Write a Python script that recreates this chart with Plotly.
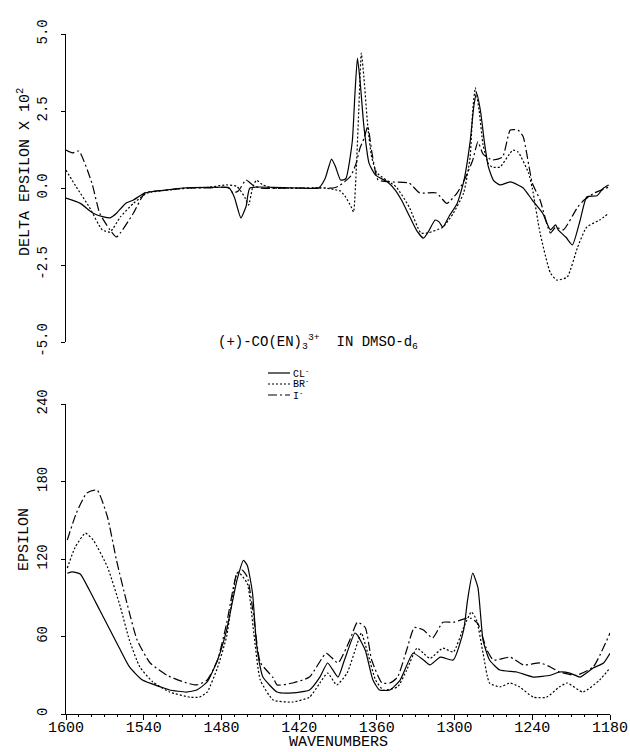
import plotly.graph_objects as go

# ---- Circular dichroism, delta epsilon x 10^2 (upper panel) ----
cd_cl_x = [1600, 1589, 1579, 1571, 1566, 1561, 1554, 1548, 1539, 1522, 1510, 1490, 1474, 1470,
           1465, 1461, 1458, 1440, 1420, 1405, 1400, 1395, 1392, 1388, 1384, 1379, 1377, 1375,
           1373, 1370, 1366, 1361, 1352, 1346, 1341, 1335, 1329, 1324, 1320, 1315, 1312, 1309,
           1304, 1298, 1293, 1288, 1285, 1283, 1280, 1277, 1274, 1270, 1265, 1257, 1251, 1247,
           1240, 1232, 1226, 1222, 1220, 1214, 1209, 1203, 1198, 1190, 1185, 1181]
cd_cl_y = [-0.33, -0.50, -0.82, -0.94, -0.97, -0.82, -0.50, -0.39, -0.16, -0.06, 0.00, 0.02, 0.00, -0.30,
           -0.97, -0.60, 0.00, 0.02, 0.00, 0.00, 0.30, 0.94, 0.70, 0.26, 0.30, 1.50, 3.00, 4.22,
           3.50, 2.00, 0.80, 0.42, 0.20, -0.06, -0.39, -0.90, -1.40, -1.63, -1.40, -1.04, -1.10, -1.27,
           -0.90, -0.50, 0.20, 1.50, 2.70, 3.08, 2.50, 1.50, 0.70, 0.25, 0.10, 0.20, 0.10, 0.00,
           -0.39, -0.82, -1.36, -1.20, -1.36, -1.60, -1.85, -1.04, -0.29, -0.25, 0.00, 0.10]

cd_br_x = [1600, 1592, 1582, 1572, 1566, 1558, 1548, 1537, 1520, 1505, 1490, 1476, 1468, 1462,
           1459, 1456, 1453, 1448, 1440, 1400, 1393, 1388, 1384, 1380, 1378, 1376, 1374, 1372,
           1370, 1367, 1364, 1360, 1345, 1335, 1326, 1320, 1309, 1301, 1293, 1288, 1286, 1284,
           1281, 1278, 1274, 1271, 1265, 1255, 1251, 1243, 1240, 1234, 1226, 1221, 1213, 1205,
           1198, 1188, 1181]
cd_br_y = [0.58, 0.03, -0.62, -1.36, -1.43, -0.94, -0.50, -0.16, -0.06, 0.00, 0.02, 0.10, 0.05, -0.30,
           -0.55, 0.00, 0.25, 0.10, 0.00, 0.00, -0.05, -0.10, -0.30, -0.60, -0.78, 0.50, 2.50, 4.38,
           3.60, 2.00, 1.00, 0.49, 0.03, -0.62, -1.46, -1.45, -1.27, -0.82, -0.16, 1.00, 2.50, 3.25,
           2.50, 1.40, 0.80, 0.68, 0.68, 1.23, 1.17, 0.50, 0.00, -1.46, -2.76, -2.99, -2.89, -1.92,
           -1.27, -1.04, -0.82]

cd_i_x = [1600, 1595, 1590, 1580, 1574, 1566, 1561, 1548, 1539, 1525, 1505, 1490, 1475, 1471,
          1467, 1461, 1456, 1450, 1420, 1400, 1394, 1390, 1385, 1380, 1376, 1373, 1370, 1367,
          1364, 1361, 1359, 1350, 1335, 1327, 1314, 1306, 1298, 1292, 1286, 1282, 1278, 1271,
          1263, 1257, 1251, 1247, 1240, 1234, 1226, 1222, 1216, 1205, 1200, 1192, 1181]
cd_i_y = [1.23, 1.14, 1.20, 0.16, -0.82, -1.36, -1.59, -0.82, -0.16, -0.08, 0.00, 0.00, 0.02, -0.16,
          -0.10, 0.26, 0.10, 0.00, 0.00, 0.00, 0.00, 0.05, 0.20, 0.40, 0.80, 1.30, 1.60, 2.00,
          1.20, 0.50, 0.26, 0.20, 0.16, -0.16, -0.16, -0.50, -0.16, 0.30, 0.90, 1.50, 1.10, 0.91,
          1.00, 1.88, 1.88, 1.66, 0.16, -0.39, -1.46, -1.27, -1.36, -0.62, -0.39, -0.16, 0.03]

# ---- Absorption, epsilon (lower panel) ----
ab_cl_x = [1599, 1595, 1589, 1582, 1574, 1566, 1558, 1551, 1541, 1527, 1520, 1507, 1499, 1491,
           1483, 1476, 1468, 1463, 1460, 1456, 1453, 1450, 1448, 1437, 1425, 1412, 1404, 1398,
           1390, 1385, 1377, 1375, 1369, 1363, 1358, 1350, 1342, 1332, 1324, 1319, 1311, 1301,
           1293, 1290, 1286, 1282, 1278, 1273, 1265, 1252, 1239, 1226, 1219, 1211, 1203, 1193,
           1185, 1180]
ab_cl_y = [109, 110, 108.4, 96, 80.5, 65, 49.5, 36.4, 26.3, 21, 18.6, 17, 18.6, 24.8,
           41.8, 65, 103.7, 119, 115, 93.7, 55, 36, 28.6, 17, 16.3, 18.6, 28.6, 39.5,
           28.6, 41.8, 62.7, 61, 49.5, 26.3, 18.6, 18.6, 26.3, 47, 41.8, 38, 44, 41.8,
           65, 88, 109, 98, 57, 41.8, 34, 32.5, 28.6, 30, 32.5, 31.7, 28.6, 35.6,
           39.5, 47]

ab_br_x = [1599, 1593, 1585, 1579, 1568, 1558, 1551, 1543, 1533, 1520, 1504, 1497, 1491, 1483,
           1476, 1468, 1466, 1460, 1455, 1450, 1440, 1425, 1412, 1404, 1398, 1391, 1383, 1375,
           1372, 1367, 1361, 1355, 1344, 1337, 1329, 1324, 1319, 1309, 1301, 1293, 1287, 1283,
           1278, 1273, 1265, 1257, 1250, 1239, 1229, 1219, 1213, 1201, 1188, 1180]
ab_br_y = [113, 129, 140, 134.7, 113.8, 82.8, 57, 36.4, 24.8, 17, 13, 13, 17, 36,
           60, 109, 109, 101, 62.7, 26.3, 10.8, 9.3, 13, 24, 31.7, 22.5, 31.7, 55,
           62.7, 47, 26.3, 18.6, 21, 34, 51, 47, 43, 51, 48, 67, 79, 72.8,
           47, 24, 21, 24, 21, 13, 13, 21, 24, 17, 26.3, 35.6]

ab_i_x = [1599, 1592, 1584, 1576, 1568, 1561, 1553, 1545, 1535, 1522, 1507, 1499, 1491, 1483,
          1476, 1468, 1464, 1460, 1455, 1450, 1440, 1437, 1425, 1412, 1399, 1390, 1381, 1375,
          1369, 1364, 1356, 1350, 1344, 1337, 1331, 1324, 1317, 1309, 1301, 1291, 1287, 1282,
          1275, 1270, 1257, 1247, 1234, 1226, 1219, 1206, 1193, 1180]
ab_i_y = [134.7, 155.6, 171, 173.4, 152.5, 119, 86, 57, 39.5, 30, 24, 22.5, 26.3, 41.8,
          70, 109, 111.5, 106, 75, 40, 28, 22.5, 24, 28.6, 47, 39.5, 57, 71,
          67, 41.8, 24, 24, 28.6, 49.5, 67, 65, 58.8, 71, 71, 74, 74, 70,
          49.5, 41.8, 44, 38, 39.5, 36.4, 32.5, 30, 36.4, 62.7]

x_ticks = [1600, 1540, 1480, 1420, 1360, 1300, 1240, 1180]
eps_ticks = [0, 60, 120, 180, 240]
cd_ticks = [-5.0, -2.5, 0.0, 2.5, 5.0]
cd_tick_text = ["-5.0", "-2.5", "0.0", "2.5", "5.0"]

anions = ["CL<sup>-</sup>", "BR<sup>-</sup>", "I<sup>-</sup>"]
dashes = ["solid", "2px,2px", "9px,3px,2px,3px"]

FONT = "Liberation Mono"
W, H = 630, 752
X0, X1 = 66, 610            # plot area, pixels
def px(v):
    return v / W
def py(v):
    return 1 - v / H

fig = go.Figure()
line_w = 1.2
for xs, ys, d in [(cd_cl_x, cd_cl_y, dashes[0]), (cd_br_x, cd_br_y, dashes[1]), (cd_i_x, cd_i_y, dashes[2])]:
    fig.add_trace(go.Scatter(x=xs, y=ys, mode="lines", xaxis="x2", yaxis="y2",
                             line=dict(color="black", width=line_w, dash=d, shape="spline", smoothing=0.5)))
for xs, ys, d in [(ab_cl_x, ab_cl_y, dashes[0]), (ab_br_x, ab_br_y, dashes[1]), (ab_i_x, ab_i_y, dashes[2])]:
    fig.add_trace(go.Scatter(x=xs, y=ys, mode="lines", xaxis="x", yaxis="y",
                             line=dict(color="black", width=line_w, dash=d, shape="spline", smoothing=0.5)))

axis_common = dict(showgrid=False, zeroline=False, showline=True, linecolor="black", linewidth=1,
                   automargin=False, ticks="outside", tickcolor="black")
y_tickfont = dict(family=FONT, size=14, color="black")

fig.update_layout(
    template="none",
    width=W, height=H, margin=dict(l=0, r=0, t=0, b=0, pad=0), autosize=False,
    paper_bgcolor="white", plot_bgcolor="white", showlegend=False,
    xaxis=dict(domain=[px(X0), px(X1)], range=[1600, 1180], anchor="y",
               tickvals=x_ticks, ticktext=[str(v) for v in x_ticks], ticklen=5,
               ticklabelstandoff=-6, ticklabeloverflow="allow",
               tickfont=dict(family=FONT, size=15, color="black"),
               minor=dict(dtick=10, ticks="outside", ticklen=2, tickcolor="black"),
               **axis_common),
    yaxis=dict(domain=[py(714), py(404)], range=[0, 240], anchor="x",
               tickvals=eps_ticks, ticktext=[str(v) for v in eps_ticks], tickangle=-90, ticklen=4,
               ticklabelstandoff=8, tickfont=y_tickfont, **axis_common),
    xaxis2=dict(domain=[px(X0), px(X1)], range=[1600, 1180], anchor="y2", visible=False),
    yaxis2=dict(domain=[py(342), py(34)], range=[-5, 5], anchor="x2",
                tickvals=cd_ticks, ticktext=cd_tick_text, tickangle=-90, ticklen=4,
                ticklabelstandoff=8, tickfont=y_tickfont, **axis_common),
)

ann_font = dict(family=FONT, size=15, color="black")
annotations = [
    dict(text="DELTA EPSILON X 10<sup>2</sup>", x=px(24), y=py(172), textangle=-90, font=ann_font),
    dict(text="EPSILON", x=px(24), y=py(540), textangle=-90, font=ann_font),
    dict(text="WAVENUMBERS", x=px(338), y=py(742), font=dict(family=FONT, size=15, color="black")),
    dict(text="(+)-CO(EN)<sub>3</sub><sup>3+</sup>  IN DMSO-d<sub>6</sub>", x=px(318), y=py(342),
         font=dict(family=FONT, size=14, color="black")),
]
legend_rows = [373, 384, 395]
for name, d, yy in zip(anions, dashes, legend_rows):
    fig.add_shape(type="line", xref="paper", yref="paper", x0=px(268), x1=px(290), y0=py(yy), y1=py(yy),
                  line=dict(color="black", width=1.2, dash=d))
    annotations.append(dict(text=name, x=px(291), y=py(yy), xanchor="left",
                            font=dict(family=FONT, size=10, color="black")))

for a in annotations:
    a.setdefault("xref", "paper")
    a.setdefault("yref", "paper")
    a.setdefault("xanchor", "center")
    a.setdefault("yanchor", "middle")
    a.setdefault("showarrow", False)
fig.update_layout(annotations=annotations)

fig.write_html("out.html")
